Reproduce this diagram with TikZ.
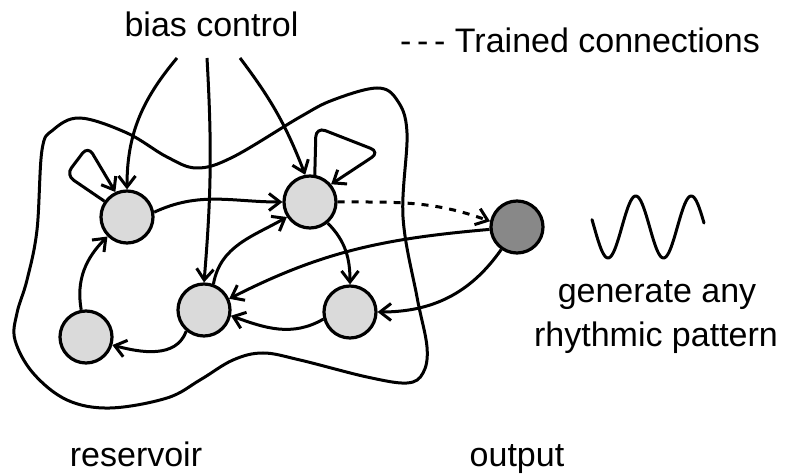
\documentclass[tikz,border=0pt]{standalone}
\usepackage{fontspec}
\setmainfont{Liberation Sans}
\usetikzlibrary{arrows.meta}
\definecolor{lightn}{HTML}{DADADA}
\definecolor{darkn}{HTML}{888888}
\begin{document}
\begin{tikzpicture}[x=1pt,y=1pt,
  neuron/.style={circle, draw, line width=3.2pt, fill=lightn, minimum size=52pt, inner sep=0pt},
  outneuron/.style={neuron, fill=darkn},
  conn/.style={line width=3pt, -{Straight Barb[length=11pt,width=17pt]}},
  trained/.style={conn, dash pattern=on 7pt off 7pt},
  lab/.style={font=\fontsize{34}{40}\selectfont, inner sep=0pt},
  blobline/.style={line width=3pt}]
\useasboundingbox (0,0) rectangle (785,474);

% reservoir outline
\draw[blobline] plot[smooth cycle, tension=0.6] coordinates {
  (37,244) (42,324) (53,344) (80,356) (127,341) (167,317) (197,306)
  (233,317) (300,357) (333,374) (377,386) (397,374) (407,341) (403,257)
  (417,177) (427,127) (423,101) (407,91) (367,97) (300,114) (263,121)
  (233,114) (200,94) (167,76) (110,66) (67,74) (33,101) (15,134) (17,161) (27,194)};

% neurons
\node[neuron] (A) at (127,257) {};
\node[neuron] (B) at (310,272) {};
\node[neuron] (C) at (86,137) {};
\node[neuron] (D) at (204,164) {};
\node[neuron] (E) at (350,162) {};
\node[outneuron] (O) at (517,247) {};

% bias inputs
\coordinate (b1) at (177,416);
\coordinate (b2) at (207,416);
\coordinate (b3) at (240,416);

% labels
\node[lab, anchor=base] (bias) at (211.5,437) {bias control};
\node[lab, anchor=base west] (legend) at (400,421) {-\,-\,- Trained connections};
\node[lab, anchor=base] (gen1) at (657,171) {generate any};
\node[lab, anchor=base] (gen2) at (656,127) {rhythmic pattern};
\node[lab, anchor=base] (res) at (136,7) {reservoir};
\node[lab, anchor=base] (out) at (517,7) {output};

% bias connections
\draw[conn] (b1) to[out=-130, in=90] (A.north);
\draw[conn] (b2) to[bend left=4] (D.north);
\draw[conn] (b3) to[bend left=8] (B.100);

% self loops
\draw[conn, rounded corners=9pt] (A.145) -- (66,299) -- (88,328) -- (A.115);
\draw[conn, rounded corners=10pt] (B.80) -- (316,347) -- (380,322) -- (B.40);

% recurrent connections
\draw[conn] (A.10) to[out=25, in=180] (B.west);
\draw[conn] (B.-50) to[out=-45, in=90] (E.north);
\draw[conn] (D.70) to[out=80, in=210] (B.213);
\draw[conn] (E.195) to[out=210, in=-20] (D.-12);
\draw[conn] (D.230) to[out=250, in=-15] (C.-17);
\draw[conn] (C.100) to[out=100, in=225] (A.225);

% output connections
\draw[trained] (B.east) to[out=0, in=160] (O.168);
\draw[conn] (O.185) to[out=185, in=27] (D.24);
\draw[conn] (O.235) to[out=235, in=0] (E.east);

% waveform
\draw[line width=3pt, line cap=round, line join=round]
  plot[domain=592:704, samples=100, smooth] (\x, {247-31*cos(6.4865*(\x-608))});
\end{tikzpicture}
\end{document}
